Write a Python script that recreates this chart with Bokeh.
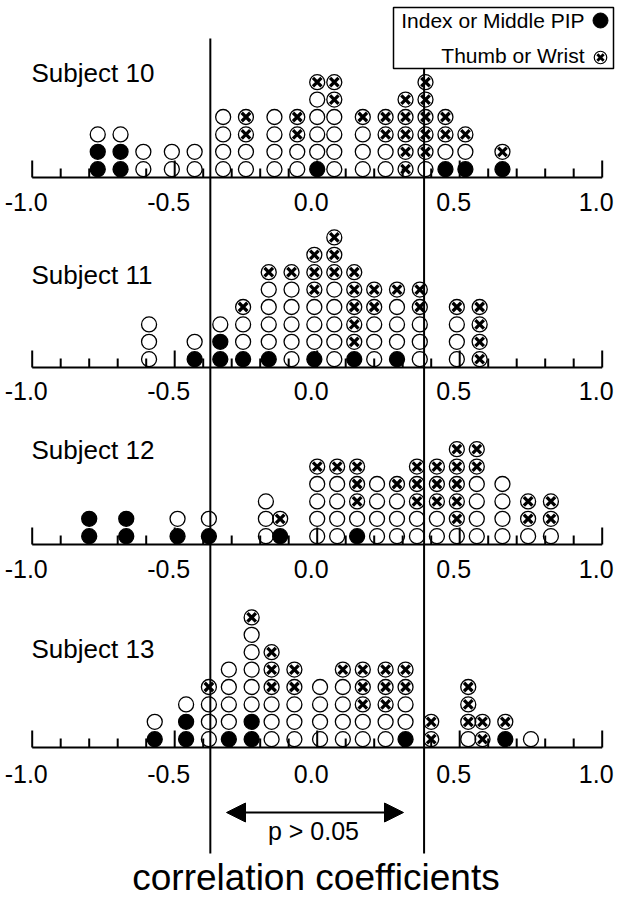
from bokeh.plotting import figure
from bokeh.models import Range1d, Arrow, NormalHead
from bokeh.core.properties import value
from bokeh.embed import file_html
from bokeh.resources import INLINE

# ---------------- data ----------------
subject_names = ["Subject 10", "Subject 11", "Subject 12", "Subject 13"]

# column r-values and stacks (bottom -> top): F = Index or Middle PIP, X = Thumb or Wrist, O = other
s10_r = [-0.77, -0.69, -0.61, -0.51, -0.43, -0.33, -0.25, -0.15, -0.07, 0.00, 0.06, 0.16, 0.24, 0.31, 0.38, 0.45, 0.52, 0.65]
s10_stack = ["FFO", "FFO", "OO", "OO", "OO", "OOOO", "OOXX", "OOOO", "OOXX", "FOOOOX", "OOOOXX", "OOOX", "OOXX", "XXXXX", "OXXXXX", "FOXX", "FOX", "FX"]

s11_r = [-0.59, -0.43, -0.34, -0.26, -0.17, -0.09, -0.01, 0.06, 0.13, 0.20, 0.28, 0.36, 0.49, 0.57]
s11_stack = ["OOO", "FO", "FFO", "FOOX", "FOOOOX", "OOOOOX", "FOOOXXX", "OOOOOXXX", "FXXXXX", "OOOXX", "FOOOX", "OOOXX", "OOOX", "XXXX"]

s12_r = [-0.80, -0.67, -0.49, -0.38, -0.18, -0.13, 0.00, 0.07, 0.14, 0.21, 0.28, 0.35, 0.42, 0.49, 0.56, 0.65, 0.74, 0.82]
s12_stack = ["FF", "FF", "FO", "FO", "OOO", "FX", "OOOOX", "OOOOX", "FOXXX", "OOOO", "OOOX", "OOXXX", "OOXXX", "OXXXXX", "OOOOXX", "OOOO", "OXX", "OXX"]

s13_r = [-0.57, -0.46, -0.38, -0.31, -0.23, -0.16, -0.08, 0.01, 0.09, 0.16, 0.24, 0.31, 0.40, 0.53, 0.58, 0.66, 0.75]
s13_stack = ["FO", "FFO", "OOOX", "FOOOO", "FFOOOOOX", "OOOXXX", "OOOXX", "OOOO", "OOOOX", "OOXXX", "OOXXX", "FOOXX", "XX", "OXXX", "XX", "FX", "O"]

tick_values = [-1.0, -0.5, 0.0, 0.5, 1.0]
tick_labels = ["-1.0", "-0.5", "0.0", "0.5", "1.0"]
p_crit = 0.375
legend_labels = ["Index or Middle PIP", "Thumb or Wrist"]
range_label = "p > 0.05"
x_title = "correlation coefficients"

# ---------------- layout ----------------
W, H = 617, 899
PX0, PXU = 316.7, 285.0
def rx(px):
    return (px - PX0) / PXU

def tb(y, fs):
    # compensate for where the renderer puts the alphabetic baseline
    return y - 0.37 * fs

FONT = value("Liberation Sans")
baselines = [177, 367, 544, 747]
label_base = [211, 400, 578, 783]
title_base = [82, 284, 459, 658]
ROW0, ROWSTEP = 8.3, 17.4
DOT = 15
TICK_FS, TITLE_FS, LEG_FS, P_FS, XT_FS = 25, 26, 21, 25, 37

p = figure(width=W, height=H, x_range=Range1d(rx(0), rx(W)), y_range=Range1d(H, 0),
           output_backend="svg", toolbar_location=None, min_border=0,
           x_axis_location=None, y_axis_location=None)
p.grid.visible = False
p.outline_line_color = None

all_r = [s10_r, s11_r, s12_r, s13_r]
all_stack = [s10_stack, s11_stack, s12_stack, s13_stack]

ox, oy, fx, fy, xx, xy = [], [], [], [], [], []
for rs, stacks, base in zip(all_r, all_stack, baselines):
    for r, st in zip(rs, stacks):
        for k, c in enumerate(st):
            y = base - ROW0 - ROWSTEP * k
            if c == "F":
                fx.append(r); fy.append(y)
            else:
                ox.append(r); oy.append(y)
                if c == "X":
                    xx.append(r); xy.append(y)

# axes
minor = [round(-1 + 0.1 * i, 1) for i in range(21)]
for base, lb in zip(baselines, label_base):
    p.segment(x0=[-1.0], y0=[base], x1=[1.0], y1=[base], line_color="black", line_width=2)
    ty1 = [base - (17 if abs(t * 2 - round(t * 2)) < 1e-9 else 9) for t in minor]
    p.segment(x0=minor, y0=[base] * len(minor), x1=minor, y1=ty1, line_color="black", line_width=2)
    p.text(x=tick_values, y=[tb(lb, TICK_FS)] * len(tick_values), text=tick_labels, text_align="center",
           text_baseline="alphabetic", x_offset=-6, text_font=FONT, text_font_size=f"{TICK_FS}px",
           text_color="black")

# dots
p.scatter(x=ox, y=oy, marker="circle", size=DOT, fill_color=None, line_color="black", line_width=1.3)
p.scatter(x=fx, y=fy, marker="circle", size=DOT, fill_color="black", line_color="black", line_width=1.3)
p.scatter(x=xx, y=xy, marker="x", size=12, line_color="black", line_width=3.3)

# significance lines
p.segment(x0=[-p_crit, p_crit], y0=[38, 68], x1=[-p_crit, p_crit], y1=[853, 853],
          line_color="black", line_width=2)

# subject titles
for name, t in zip(subject_names, title_base):
    p.text(x=[rx(31)], y=[tb(t, TITLE_FS)], text=[name], text_align="left", text_baseline="alphabetic",
           text_font=FONT, text_font_size=f"{TITLE_FS}px", text_color="black")

# legend box
p.quad(left=[rx(393)], right=[rx(613)], top=[7], bottom=[68], fill_color=None,
       line_color="black", line_width=1.5)
p.text(x=[rx(584), rx(584)], y=[tb(28, LEG_FS), tb(63, LEG_FS)], text=legend_labels, text_align="right",
       text_baseline="alphabetic", text_font=FONT, text_font_size=f"{LEG_FS}px", text_color="black")
p.scatter(x=[rx(600)], y=[20], marker="circle", size=15, fill_color="black", line_color="black")
p.scatter(x=[rx(600)], y=[57], marker="circle", size=12.5, fill_color=None, line_color="black", line_width=1.2)
p.scatter(x=[rx(600)], y=[57], marker="x", size=9, line_color="black", line_width=2.8)

# arrow and bottom texts
p.add_layout(Arrow(start=NormalHead(size=19, fill_color="black", line_color="black"),
                   end=NormalHead(size=19, fill_color="black", line_color="black"),
                   x_start=rx(226), y_start=812, x_end=rx(403), y_end=812,
                   line_color="black", line_width=2))
p.text(x=[rx(313)], y=[tb(840, P_FS)], text=[range_label], text_align="center", text_baseline="alphabetic",
       text_font=FONT, text_font_size=f"{P_FS}px", text_color="black")
p.text(x=[rx(315.5)], y=[tb(891, XT_FS)], text=[x_title], text_align="center", text_baseline="alphabetic",
       text_font=FONT, text_font_size=f"{XT_FS}px", text_color="black")

open("out.html", "w").write(file_html(p, INLINE))
